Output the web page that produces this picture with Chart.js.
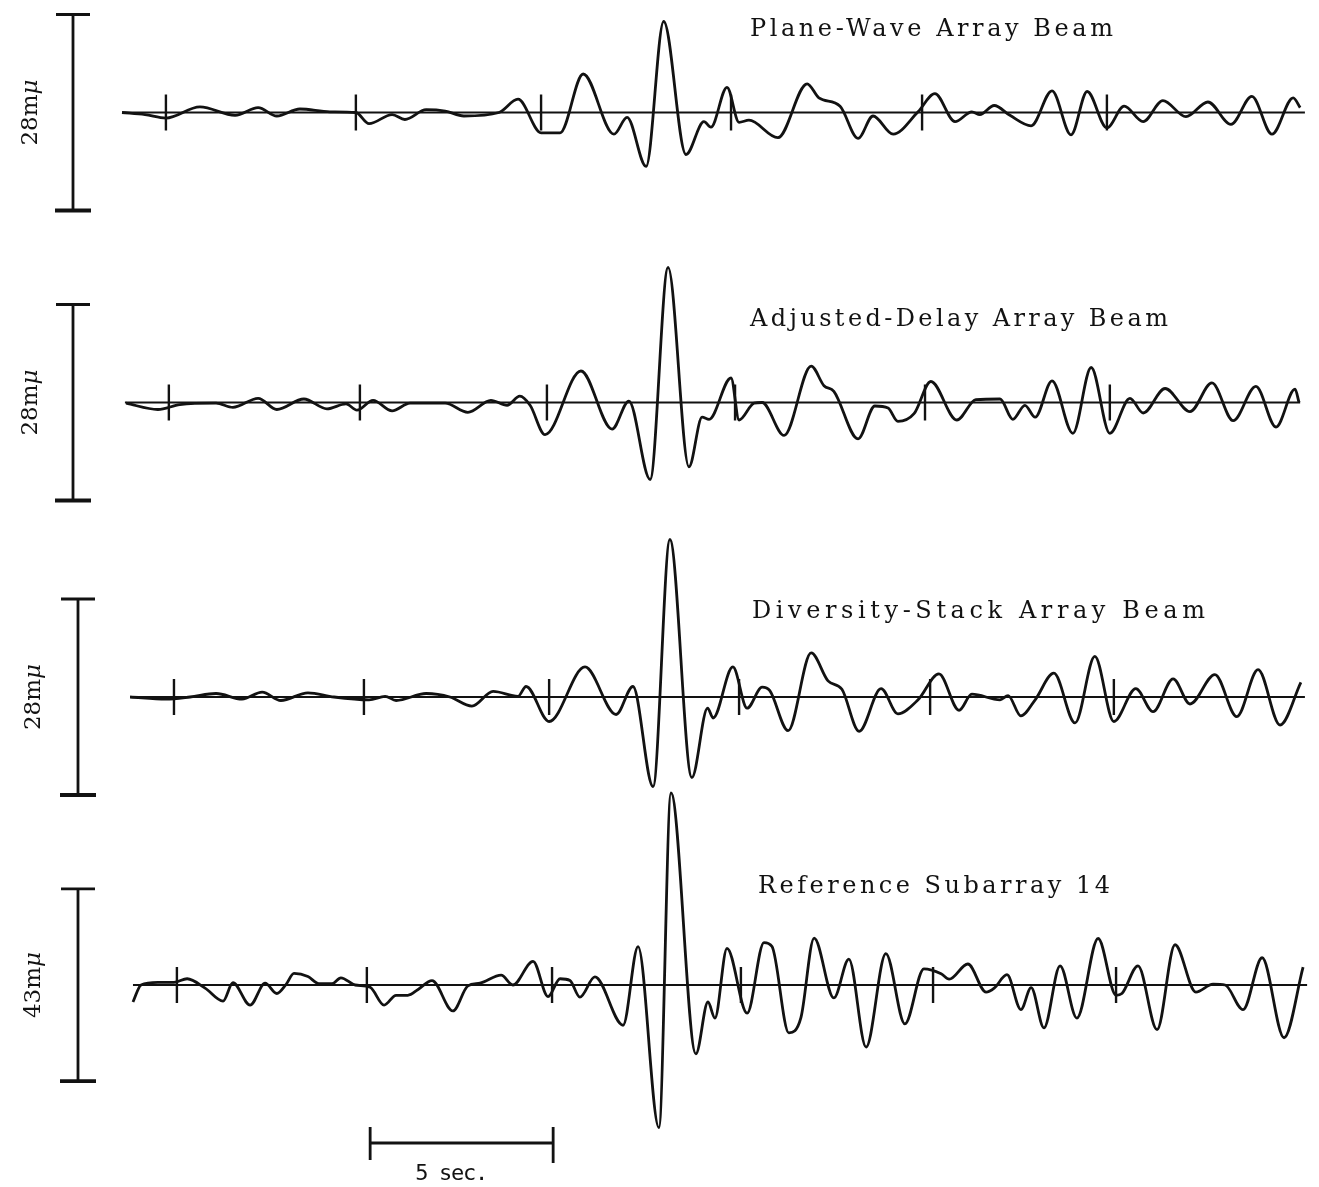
<!DOCTYPE html>
<html>
<head>
<meta charset="utf-8">
<title>Array Beams</title>
<script src="https://cdn.jsdelivr.net/npm/chart.js@4.4.1/dist/chart.umd.min.js"></script>
<style>
html, body { margin: 0; padding: 0; background: #fff; }
canvas { display: block; }
</style>
</head>
<body>
<canvas id="sismo" width="1319" height="1187"></canvas>
<script>

// tiempos en segundos, amplitudes en mμ (respecto a la linea base)
var planoT = [0.00,0.63,1.20,2.13,3.09,3.72,4.23,4.86,5.68,6.39,
	6.75,7.38,7.73,8.31,8.83,9.34,10.30,10.82,11.45,11.97,
	12.60,13.44,13.80,14.32,14.80,15.41,15.90,16.09,16.53,
	16.86,17.13,17.92,18.72,19.04,19.62,20.11,20.52,21.07,21.75,
	22.21,22.76,23.22,23.44,23.83,24.26,24.84,25.41,25.93,26.37,
	26.91,27.38,27.90,28.44,29.07,29.67,30.30,30.87,31.42,32.00,32.19];
var planoA = [0,-0.3,-0.8,0.8,-0.4,0.7,-0.5,0.5,0.1,0,
	-1.6,-0.3,-1.0,0.4,0.2,-0.5,0,1.9,-2.9,-2.9,
	5.5,-3.1,-0.7,-7.7,13.0,-6.0,-1.3,-2.1,3.6,
	-1.4,-1.1,-3.6,4.1,2.1,0.9,-3.7,-0.5,-3.1,0.1,
	2.7,-1.3,0.1,-0.3,1.0,-0.4,-1.9,3.1,-3.2,3.0,
	-2.2,0.9,-1.3,1.7,-0.6,1.5,-1.7,2.3,-3.1,2.1,0.7];

var retardoT = [0.11,0.98,1.58,2.57,3.03,3.72,4.23,4.97,5.60,6.12,
	6.42,6.86,7.38,7.87,8.83,9.45,10.08,10.52,10.87,11.15,
	11.56,12.54,13.39,13.85,14.43,14.92,15.49,15.85,16.04,16.64,
	16.86,17.27,17.49,18.09,18.83,19.18,19.45,20.11,20.57,20.93,
	21.20,21.64,22.10,22.81,23.33,23.99,24.34,24.67,24.95,25.41,
	25.98,26.48,26.99,27.54,27.90,28.50,29.18,29.78,30.36,30.98,
	31.53,32.05,32.16];
var retardoA = [-0.1,-1.0,-0.3,-0.1,-0.7,0.6,-1.0,0.5,-0.9,-0.2,
	-1.1,0.3,-1.2,-0.1,-0.1,-1.4,0.3,-0.4,0.9,-0.4,
	-4.6,4.5,-3.8,0.2,-11.0,19.3,-9.2,-2.1,-2.4,3.5,
	-2.5,-0.1,0.0,-4.7,5.2,2.4,1.6,-5.2,-0.5,-0.8,
	-2.7,-1.6,3.0,-2.5,0.4,0.5,-2.4,-0.4,-2.1,3.1,
	-4.4,5.0,-4.4,0.6,-1.5,2.0,-1.3,2.8,-2.6,2.3,
	-3.5,1.9,0.0];

var diversidadT = [0.22,1.20,1.86,2.57,3.28,3.83,4.34,5.08,5.79,6.75,
	7.19,7.49,8.31,8.96,9.56,10.14,10.82,11.04,11.67,12.65,
	13.50,13.96,14.51,14.97,15.57,16.00,16.15,16.69,17.08,17.49,
	17.70,18.20,18.83,19.29,19.67,20.14,20.74,21.20,21.75,22.32,
	22.87,23.22,23.99,24.21,24.56,24.95,25.46,26.04,26.58,27.10,
	27.70,28.17,28.72,29.18,29.86,30.46,31.04,31.64,32.21];
var diversidadA = [0.0,-0.3,0,0.5,-0.3,0.7,-0.5,0.6,0.0,-0.4,
	0.1,-0.5,0.5,0,-1.3,0.8,0.1,1.5,-3.5,4.3,
	-2.5,1.5,-12.8,22.5,-11.5,-1.6,-3.0,4.3,-1.6,1.4,
	0.9,-4.8,6.3,2.3,1.1,-4.9,1.2,-2.4,-0.4,3.3,
	-1.9,0.4,-0.4,0.2,-2.7,-0.4,3.4,-3.7,5.8,-3.5,
	1.2,-2.1,2.6,-1.0,3.2,-2.8,3.9,-4.0,2.1];

var referenciaT = [0.30,0.52,0.98,1.42,1.78,2.27,2.76,3.03,3.50,3.91,
	4.23,4.48,4.70,5.08,5.38,5.74,5.98,6.37,6.78,7.16,
	7.49,7.81,8.09,8.47,9.04,9.45,9.78,10.36,10.68,11.23,
	11.64,11.97,12.24,12.51,12.92,13.69,14.10,14.67,15.00,15.68,
	16.01,16.20,16.53,17.08,17.54,17.76,18.22,18.55,18.91,19.45,
	19.86,20.33,20.87,21.39,21.91,22.38,22.60,23.11,23.61,23.83,
	24.18,24.56,24.84,25.19,25.63,26.09,26.67,27.16,27.32,27.76,
	28.28,28.77,29.34,29.81,30.14,30.63,31.15,31.75,32.27];
var referenciaA = [-3.8,0.0,0.6,0.6,1.4,-0.7,-3.6,0.5,-4.5,0.4,
	-1.9,0.1,2.6,1.9,0.3,0.3,1.6,0.0,-0.5,-4.5,
	-2.3,-2.3,-1.0,1.0,-5.8,-0.2,0.4,2.2,0.0,5.3,
	-2.6,1.4,1.0,-2.7,1.8,-9.0,8.6,-31.9,43.0,-15.4,
	-3.8,-7.4,8.2,-6.3,9.5,8.6,-10.7,-7.3,10.5,-2.9,
	5.8,-13.9,7.0,-8.7,3.6,2.5,1.3,4.7,-1.6,-0.7,
	2.3,-5.5,-0.6,-9.6,4.3,-7.4,10.4,-2.3,-1.9,4.3,
	-10.0,9.0,-1.6,0.2,0.0,-5.5,6.1,-11.8,4.0];

// marcas de tiempo sobre cada traza (s)
var planoMarcas = [1.20, 6.39, 11.45, 16.64, 21.86, 26.91];
var retardoMarcas = [1.28, 6.50, 11.61, 16.75, 21.94, 26.99];
var diversidadMarcas = [1.42, 6.61, 11.67, 16.86, 22.08, 27.10];
var referenciaMarcas = [1.50, 6.69, 11.75, 16.91, 22.16, 27.16];

// inicio y fin de cada linea base (s)
var planoLinea = [0.00, 32.32];
var retardoLinea = [0.08, 32.19];
var diversidadLinea = [0.22, 32.32];
var referenciaLinea = [0.30, 32.38];

var titulos = ["Plane-Wave Array Beam", "Adjusted-Delay Array Beam", "Diversity-Stack Array Beam", "Reference Subarray 14"];
var escalas = [28, 28, 28, 43];   // largo de la barra de escala, mμ
var escalaTiempo = 5;             // s

// disposicion en pixeles
var ancho = 1319, alto = 1187;
var pxPorSeg = 36.6, origenX = 122;
var baseY = [112.5, 402.5, 697, 985];
var pxPorMu = [7, 7, 7, 4.47];
var barraX = [73, 73, 78, 78];
var etiquetaX = [31, 31, 34, 34];
var tituloPos = [[750, 36, 363], [750, 326, 418], [752, 618, 453], [758, 893, 352]];
var tiempoInicio = 6.78, tiempoY = 1143;

var trazas = [
	{ t: planoT, a: planoA, marcas: planoMarcas, linea: planoLinea },
	{ t: retardoT, a: retardoA, marcas: retardoMarcas, linea: retardoLinea },
	{ t: diversidadT, a: diversidadA, marcas: diversidadMarcas, linea: diversidadLinea },
	{ t: referenciaT, a: referenciaA, marcas: referenciaMarcas, linea: referenciaLinea }
];

var tinta = "#121212";
var datasets = [];
var scales = {
	x: { type: 'linear', display: false, min: -origenX / pxPorSeg, max: (ancho - origenX) / pxPorSeg }
};

for (var i = 0; i < trazas.length; i++) {
	var tr = trazas[i];
	var eje = 'y' + i;
	scales[eje] = { type: 'linear', display: false, min: -(alto - baseY[i]) / pxPorMu[i], max: baseY[i] / pxPorMu[i] };

	// linea base
	datasets.push({
		data: [{ x: tr.linea[0], y: 0 }, { x: tr.linea[1], y: 0 }],
		yAxisID: eje, borderColor: tinta, borderWidth: 2.2, pointRadius: 0, clip: false
	});
	// la señal
	datasets.push({
		data: tr.t.map(function (t, j) { return { x: t, y: tr.a[j] }; }),
		yAxisID: eje, borderColor: tinta, borderWidth: 2.8, pointRadius: 0,
		cubicInterpolationMode: 'monotone', clip: false
	});
	// marcas verticales
	datasets.push({
		data: tr.marcas.map(function (t) { return { x: t, y: 0 }; }),
		yAxisID: eje, showLine: false, pointStyle: 'line', rotation: 90,
		pointRadius: 18, pointBorderWidth: 2.4, pointBorderColor: tinta, clip: false
	});
}

function textoEspaciado(ctx, texto, x, y, anchoObjetivo) {
	ctx.letterSpacing = '0px';
	var w0 = ctx.measureText(texto).width;
	var esp = (anchoObjetivo - w0) / (texto.length - 1);
	ctx.letterSpacing = esp.toFixed(2) + 'px';
	ctx.fillText(texto, x, y);
	ctx.letterSpacing = '0px';
}

var anotaciones = {
	id: 'anotaciones',
	afterDraw: function (chart) {
		var ctx = chart.ctx;
		var xs = chart.scales.x;
		ctx.save();
		ctx.strokeStyle = tinta;
		ctx.fillStyle = tinta;
		ctx.lineCap = 'butt';

		for (var i = 0; i < trazas.length; i++) {
			var ys = chart.scales['y' + i];
			var arriba = ys.getPixelForValue(escalas[i] / 2);
			var abajo = ys.getPixelForValue(-escalas[i] / 2);
			var bx = barraX[i];

			// barra de escala de amplitud
			ctx.lineWidth = 2.8;
			ctx.beginPath();
			ctx.moveTo(bx, arriba); ctx.lineTo(bx, abajo);
			ctx.moveTo(bx - 17, arriba); ctx.lineTo(bx + 17, arriba);
			ctx.stroke();
			ctx.lineWidth = 3.8;
			ctx.beginPath();
			ctx.moveTo(bx - 18, abajo); ctx.lineTo(bx + 18, abajo);
			ctx.stroke();

			// etiqueta girada
			var cy = ys.getPixelForValue(0);
			ctx.save();
			ctx.translate(etiquetaX[i], cy);
			ctx.rotate(-Math.PI / 2);
			ctx.textBaseline = 'middle';
			ctx.font = '23px "DejaVu Serif"';
			var num = escalas[i] + 'm';
			var w1 = ctx.measureText(num).width;
			ctx.font = 'italic 23px "DejaVu Serif"';
			var w2 = ctx.measureText('μ').width;
			ctx.font = '23px "DejaVu Serif"';
			ctx.textAlign = 'left';
			ctx.fillText(num, -(w1 + w2) / 2, 0);
			ctx.font = 'italic 23px "DejaVu Serif"';
			ctx.fillText('μ', -(w1 + w2) / 2 + w1, 0);
			ctx.restore();

			// titulo de la traza
			ctx.font = '24px "DejaVu Serif"';
			ctx.textAlign = 'left';
			ctx.textBaseline = 'alphabetic';
			textoEspaciado(ctx, titulos[i], tituloPos[i][0], tituloPos[i][1], tituloPos[i][2]);
		}

		// barra de tiempo
		var x1 = xs.getPixelForValue(tiempoInicio);
		var x2 = xs.getPixelForValue(tiempoInicio + escalaTiempo);
		ctx.lineWidth = 2.8;
		ctx.beginPath();
		ctx.moveTo(x1, tiempoY); ctx.lineTo(x2, tiempoY);
		ctx.moveTo(x1, tiempoY - 16); ctx.lineTo(x1, tiempoY + 17);
		ctx.moveTo(x2, tiempoY - 16); ctx.lineTo(x2, tiempoY + 20);
		ctx.stroke();
		ctx.font = '22px "DejaVu Sans Mono"';
		ctx.textAlign = 'left';
		textoEspaciado(ctx, escalaTiempo + ' sec.', x1 + 45, tiempoY + 37, 73);

		ctx.restore();
	}
};

var grafico = new Chart(document.getElementById('sismo'), {
	type: 'line',
	data: { datasets: datasets },
	options: {
		responsive: false,
		animation: false,
		events: [],
		layout: { padding: 0, autoPadding: false },
		plugins: { legend: { display: false }, tooltip: { enabled: false } },
		scales: scales
	},
	plugins: [anotaciones]
});
</script>
</body>
</html>
